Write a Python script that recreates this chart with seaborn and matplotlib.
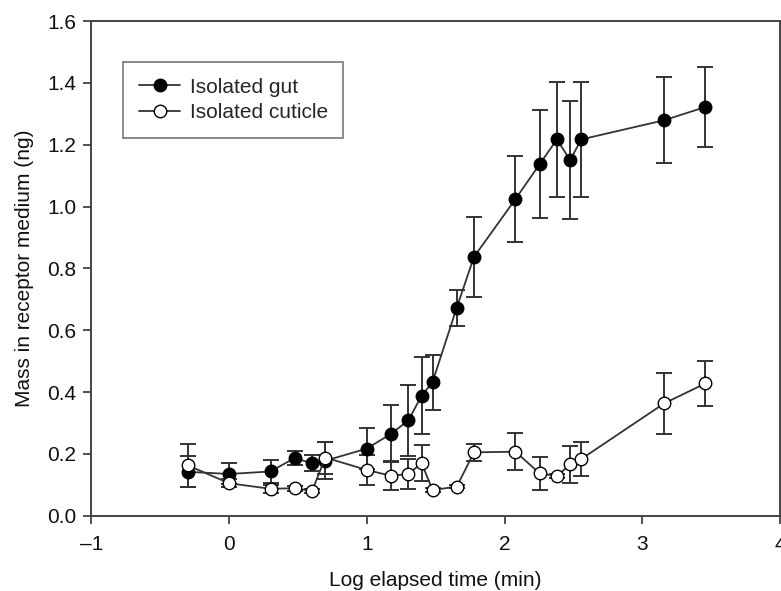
import matplotlib
matplotlib.use("Agg")
import matplotlib.pyplot as plt
import seaborn as sns
import pandas as pd

# Sampling times, log10(minutes): 0.5, 1, 2, 3, 4, 5, 10, 15, 20, 25, 30, 45, 60,
# 120, 180, 240, 300, 360, 1440, 2880 min
log_time = [-0.301, 0.0, 0.301, 0.477, 0.602, 0.699, 1.0, 1.176, 1.301, 1.398,
            1.477, 1.653, 1.778, 2.079, 2.255, 2.380, 2.477, 2.556, 3.158, 3.459]

gut_mean = [0.142, 0.135, 0.143, 0.187, 0.169, 0.178, 0.217, 0.265, 0.308, 0.388,
            0.432, 0.673, 0.837, 1.024, 1.137, 1.217, 1.150, 1.217, 1.279, 1.322]
gut_err = [0.050, 0.034, 0.037, 0.023, 0.026, 0.060, 0.066, 0.092, 0.116, 0.124,
           0.089, 0.058, 0.130, 0.140, 0.174, 0.187, 0.190, 0.185, 0.139, 0.130]

cut_mean = [0.163, 0.105, 0.087, 0.089, 0.080, 0.188, 0.148, 0.129, 0.135, 0.170,
            0.083, 0.094, 0.205, 0.207, 0.137, 0.128, 0.166, 0.183, 0.363, 0.428]
cut_err = [0.070, 0.013, 0.012, 0.008, 0.006, 0.052, 0.048, 0.047, 0.050, 0.059,
           0.006, 0.006, 0.027, 0.060, 0.054, 0.006, 0.060, 0.054, 0.100, 0.072]

x_ticks = [-1, 0, 1, 2, 3, 4]
x_tick_labels = ["\u20131", "0", "1", "2", "3", "4"]
y_ticks = [0.0, 0.2, 0.4, 0.6, 0.8, 1.0, 1.2, 1.4, 1.6]

gut = pd.DataFrame({"t": log_time, "mass": gut_mean, "err": gut_err})
cut = pd.DataFrame({"t": log_time, "mass": cut_mean, "err": cut_err})

sns.set_style("ticks")
plt.rcParams["font.family"] = ["Liberation Sans", "DejaVu Sans"]
plt.rcParams["font.size"] = 15

line_col = "#333333"
fig = plt.figure(figsize=(7.81, 5.91), dpi=100)
ax = fig.add_axes([0.117, 0.1274, 0.8817, 0.837])

for df in (gut, cut):
    ax.errorbar(df["t"], df["mass"], yerr=df["err"], fmt="none",
                ecolor=line_col, elinewidth=1.4, capsize=5.5, capthick=1.4, zorder=2)

sns.lineplot(data=gut, x="t", y="mass", ax=ax, color=line_col, linewidth=1.3,
             marker="o", markersize=9, markerfacecolor="black",
             markeredgecolor="black", markeredgewidth=1.0,
             label="Isolated gut", zorder=3)
sns.lineplot(data=cut, x="t", y="mass", ax=ax, color=line_col, linewidth=1.3,
             marker="o", markersize=9, markerfacecolor="white",
             markeredgecolor="black", markeredgewidth=1.0,
             label="Isolated cuticle", zorder=4)

ax.set_xlim(-1, 4)
ax.set_ylim(0, 1.6)
ax.set_xticks(x_ticks)
ax.set_xticklabels(x_tick_labels)
ax.set_yticks(y_ticks)
ax.set_yticklabels([f"{v:.1f}" for v in y_ticks])
ax.tick_params(axis="both", direction="out", length=6, width=1.3,
               color="#444444", labelsize=15, labelcolor="#111111")
ax.tick_params(axis="x", pad=8)
ax.tick_params(axis="y", pad=5)

for side in ("left", "right", "top", "bottom"):
    ax.spines[side].set_visible(True)
    ax.spines[side].set_color("#444444")
    ax.spines[side].set_linewidth(1.4)

ax.set_xlabel("Log elapsed time (min)", fontsize=15, color="#111111", labelpad=12)
ax.set_ylabel("Mass in receptor medium (ng)", fontsize=15, color="#111111", labelpad=9)

leg = ax.legend(loc="upper left", bbox_to_anchor=(0.046, 0.917), borderaxespad=0,
                fancybox=False, frameon=True, edgecolor="#555555", fontsize=15,
                handlelength=2.0, handletextpad=0.45, labelspacing=0.3,
                borderpad=0.75)
leg.get_frame().set_linewidth(1.2)

fig.savefig("out.png", dpi=100)
